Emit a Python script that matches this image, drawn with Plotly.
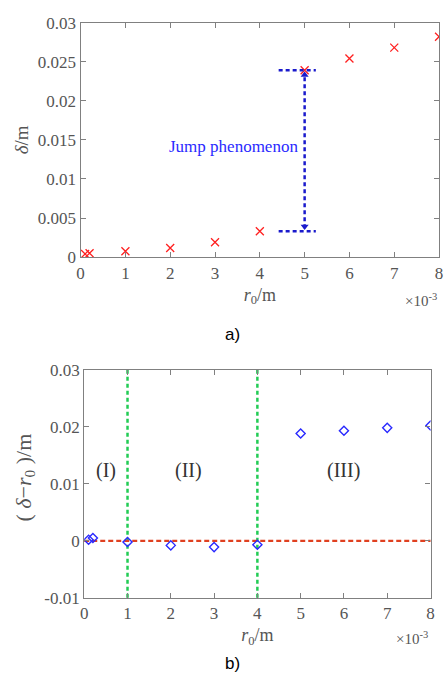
import plotly.graph_objects as go

# ---- data ----
r0 = [0.1, 0.2, 1, 2, 3, 4, 5, 6, 7, 8]            # x (×10^-3 m)
delta = [0.0004, 0.0005, 0.00075, 0.00117, 0.0019, 0.0033, 0.0239, 0.0254, 0.0268, 0.0282]
diff = [0.0002, 0.0005, -0.0002, -0.0008, -0.0011, -0.0007, 0.0188, 0.0193, 0.0198, 0.0202]
region_bounds = [1, 4]
region_labels = ["(I)", "(II)", "(III)"]
region_label_x = [0.5, 2.4, 6.0]
region_label_y = 0.0123
xticks = [0, 1, 2, 3, 4, 5, 6, 7, 8]
yticks_a = [0, 0.005, 0.01, 0.015, 0.02, 0.025, 0.03]
yticks_a_text = ["0", "0.005", "0.01", "0.015", "0.02", "0.025", "0.03"]
yticks_b = [-0.01, 0, 0.01, 0.02, 0.03]
yticks_b_text = ["-0.01", "0", "0.01", "0.02", "0.03"]

SERIF = "Liberation Serif, Times New Roman, serif"
SANS = "Liberation Sans, Arial, sans-serif"
AXC = "#808080"
TXC = "#555555"

fig = go.Figure()

# top: delta
fig.add_trace(go.Scatter(x=r0, y=delta, mode="markers", xaxis="x", yaxis="y",
                         marker=dict(symbol="x-thin", size=8, line=dict(color="#ff2020", width=1.3)),
                         showlegend=False))

# jump arrow (derived from data)
i4, i5 = r0.index(4), r0.index(5)
ytop, ybot = delta[i5], delta[i4]
xa = r0[i5]
ac = "#1a1acc"
fig.add_trace(go.Scatter(x=[xa, xa], y=[ybot + 0.0004, ytop - 0.0004], mode="lines", xaxis="x", yaxis="y",
                         line=dict(color=ac, width=2.5, dash="4px,3px"), showlegend=False))
for yy in (ytop, ybot):
    fig.add_trace(go.Scatter(x=[xa - 0.58, xa + 0.25], y=[yy, yy], mode="lines", xaxis="x", yaxis="y",
                             line=dict(color=ac, width=2.5, dash="4px,3px"), showlegend=False))
fig.add_trace(go.Scatter(x=[xa, xa], y=[ytop - 0.0006, ybot + 0.0006], mode="markers", xaxis="x", yaxis="y",
                         marker=dict(symbol=["triangle-up", "triangle-down"], size=7, color=ac),
                         showlegend=False))

# bottom: delta - r0
fig.add_trace(go.Scatter(x=r0, y=diff, mode="markers", xaxis="x2", yaxis="y2",
                         marker=dict(symbol="diamond-open", size=7, color="#2a2aff", line=dict(width=1.4)),
                         showlegend=False))

shapes = []
for b in region_bounds:
    shapes.append(dict(type="line", xref="x2", yref="y2 domain", x0=b, x1=b, y0=0, y1=1,
                       line=dict(color="#22cc55", width=2.5, dash="4px,3px"), layer="below"))
shapes.append(dict(type="line", xref="x2 domain", yref="y2", x0=0, x1=1, y0=0, y1=0,
                   line=dict(color="#e04020", width=2.2, dash="5px,3px"), layer="below"))

annotations = [
    dict(text="Jump phenomenon", x=4.9, y=0.0141, xref="x", yref="y", xanchor="right",
         showarrow=False, font=dict(family=SERIF, size=17, color="#2a2aff")),
    dict(text="×10<sup>-3</sup>", x=443 / 446, y=1 - 299 / 700, xref="paper", yref="paper",
         xanchor="right", yanchor="middle", showarrow=False, font=dict(family=SERIF, size=15, color=TXC)),
    dict(text="×10<sup>-3</sup>", x=434 / 446, y=1 - 647 / 700, xref="paper", yref="paper",
         xanchor="right", yanchor="middle", showarrow=False, font=dict(family=SERIF, size=15, color=TXC)),
    dict(text="a)", x=233 / 446, y=1 - 335 / 700, xref="paper", yref="paper", showarrow=False,
         font=dict(family=SANS, size=17, color="#000000")),
    dict(text="b)", x=233 / 446, y=1 - 685 / 700, xref="paper", yref="paper", showarrow=False,
         font=dict(family=SANS, size=17, color="#000000")),
    dict(text="( <i>δ</i>−<i>r</i><sub>0</sub> )/m", x=21 / 446, y=1 - 482 / 700, xref="paper", yref="paper",
         textangle=-90, showarrow=False, xanchor="center", yanchor="middle",
         font=dict(family=SERIF, size=22, color=TXC)),
]
for lab, lx in zip(region_labels, region_label_x):
    annotations.append(dict(text=lab, x=lx, y=region_label_y, xref="x2", yref="y2", showarrow=False,
                            font=dict(family=SERIF, size=20, color="#333333")))

axis_common = dict(showline=True, linecolor=AXC, linewidth=1.2, mirror="ticks", ticks="inside",
                   ticklen=5, tickcolor=AXC, showgrid=False, zeroline=False,
                   tickfont=dict(family=SERIF, size=17, color=TXC))

fig.update_layout(
    width=446, height=700, margin=dict(l=0, r=0, t=0, b=0),
    paper_bgcolor="white", plot_bgcolor="white", showlegend=False,
    xaxis=dict(domain=[78 / 446, 443 / 446], range=[0, 8], tickvals=xticks, anchor="y",
               title=dict(text="<i>r</i><sub>0</sub>/m", font=dict(family=SERIF, size=18, color=TXC), standoff=6),
               **axis_common),
    yaxis=dict(domain=[1 - 255 / 700, 1 - 14 / 700], range=[0, 0.03], tickvals=yticks_a, ticktext=yticks_a_text,
               anchor="x", title=dict(text="<i>δ</i>/m", font=dict(family=SERIF, size=19, color=TXC), standoff=4),
               **axis_common),
    xaxis2=dict(domain=[81.7 / 446, 434.3 / 446], range=[0, 8], tickvals=xticks, anchor="y2",
                title=dict(text="<i>r</i><sub>0</sub>/m", font=dict(family=SERIF, size=18, color=TXC), standoff=6),
                **axis_common),
    yaxis2=dict(domain=[1 - 605.3 / 700, 1 - 370.7 / 700], range=[-0.01, 0.03], tickvals=yticks_b,
                ticktext=yticks_b_text, anchor="x2", **axis_common),
    shapes=shapes, annotations=annotations,
)

fig.write_html("out.html")
